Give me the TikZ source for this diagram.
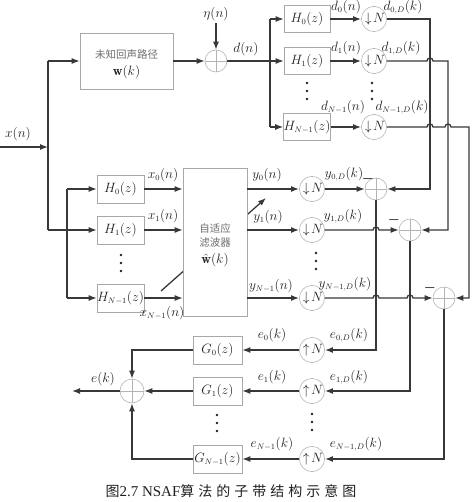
\RequirePackage{fix-cm}
\documentclass[tikz,border=0pt]{standalone}
\usepackage{fontspec}
\newfontfamily\cjk{Noto Sans CJK SC}
\newfontfamily\capserif{Liberation Serif}
\usetikzlibrary{arrows.meta,calc}
\definecolor{lncol}{HTML}{383838}
\definecolor{boxcol}{HTML}{A8A8A8}
\definecolor{circcol}{HTML}{B4B4B4}
\definecolor{txtcol}{HTML}{202020}
\DeclareMathSizes{13.5}{13.5}{8}{6}
\newcommand{\cjkbox}[1]{{\cjk\fontsize{10.5}{12}\selectfont\color[HTML]{707070}#1}}
\begin{document}
\begin{tikzpicture}[x=1pt,y=1pt,
 line/.style={draw=lncol, line width=1.3pt},
 arr/.style={line, -{Latex[length=8pt,width=6pt]}},
 box/.style={draw=boxcol, line width=0.6pt, minimum width=46pt, minimum height=27pt, inner sep=0pt, font=\fontsize{13.5}{15}\selectfont, fill=white, text=txtcol},
 sumc/.style={circle, draw=circcol, line width=0.6pt, minimum size=22pt, inner sep=0pt, fill=white,
   path picture={\draw[circcol, line width=0.5pt] (path picture bounding box.north) -- (path picture bounding box.south) (path picture bounding box.west) -- (path picture bounding box.east);}},
 samp/.style={circle, draw=circcol, line width=0.6pt, minimum size=23pt, inner sep=0pt, font=\fontsize{13.5}{15}\selectfont, text=txtcol},
 lab/.style={font=\fontsize{13.5}{15}\selectfont, inner sep=0pt, text=txtcol},
 minus/.style={font=\fontsize{13.5}{13.5}\selectfont\boldmath, inner sep=0pt, text=txtcol},
 dot/.style={fill=txtcol},
]
\useasboundingbox (0,0) rectangle (474,-502);

% ---------- top part ----------
\coordinate (xin) at (0,-147);
\coordinate (j1) at (48,-147);
\coordinate (jt) at (48,-61);
\coordinate (jb) at (48,-230);
\node[lab] (xlab) at (18,-134) {$x(n)$};
\draw[arr] (xin) -- (j1);
\draw[line] (jt) -- (jb);

\node[box, minimum width=93pt, minimum height=56pt] (wbox) at (126.5,-61) {};
\node[inner sep=0pt] (wtxt1) at (126.5,-55) {\cjkbox{未知回声路径}};
\node[lab] (wtxt2) at (126.5,-72) {$\mathbf{w}(k)$};
\draw[arr] (jt) -- (wbox.west);

\node[sumc] (st) at (216,-61) {};
\node[lab] (eta) at (216,-14) {$\eta(n)$};
\draw[arr, shorten <=2pt] (eta.south) -- (st.north);
\draw[arr] (wbox.east) -- (st.west);

\coordinate (dsplit) at (270,-61);
\coordinate (tv0) at (270,-19);
\coordinate (tvn) at (270,-127);
\draw[line] (st.east) -- (dsplit);
\node[lab] at (246,-49) {$d(n)$};
\draw[line] (tv0) -- (tvn);

\node[box] (th0) at (307,-19) {$H_0(z)$};
\node[box] (th1) at (307,-61) {$H_1(z)$};
\node[box] (thn) at (307,-127) {$H_{N-1}(z)$};
\draw[arr] (tv0) -- (th0.west);
\draw[arr] (dsplit) -- (th1.west);
\draw[arr] (tvn) -- (thn.west);
\foreach \yy in {83,91,99} \fill[dot] (307,-\yy) circle (1.3);

\node[samp] (td0) at (374,-19) {\hspace{2pt}$\downarrow\! N$};
\node[samp] (td1) at (374,-61) {\hspace{2pt}$\downarrow\! N$};
\node[samp] (tdn) at (374,-127) {\hspace{2pt}$\downarrow\! N$};
\draw[arr] (th0.east) -- (td0.west);
\draw[arr] (th1.east) -- (td1.west);
\draw[arr] (thn.east) -- (tdn.west);
\foreach \yy in {83,91,99} \fill[dot] (372,-\yy) circle (1.3);

\node[lab] at (346,-7) {$d_0(n)$};
\node[lab] at (346,-48) {$d_1(n)$};
\node[lab] at (343,-107) {$d_{N-1}(n)$};
\node[lab] at (403,-7) {$d_{0,D}(k)$};
\node[lab] at (401,-48) {$d_{1,D}(k)$};
\node[lab] at (402,-107) {$d_{N-1,D}(k)$};

% ---------- middle part ----------
\node[box, minimum width=47pt, minimum height=28pt] (mh0) at (120.5,-189) {$H_0(z)$};
\node[box, minimum width=47pt, minimum height=28pt] (mh1) at (120.5,-230) {$H_1(z)$};
\node[box, minimum width=47pt, minimum height=28pt] (mhn) at (120.5,-298) {$H_{N-1}(z)$};
\coordinate (mv0) at (67,-189);
\coordinate (mvn) at (67,-298);
\draw[line] (mv0) -- (mvn);
\draw[arr] (jb) -- (mh1.west);
\draw[arr] (mv0) -- (mh0.west);
\draw[arr] (mvn) -- (mhn.west);
\foreach \yy in {255,263,271} \fill[dot] (121,-\yy) circle (1.3);

\coordinate (dg1) at (161,-291);
\coordinate (dg2) at (266,-198);
\draw[arr] (dg1) -- (dg2);
\node[box, minimum width=64pt, minimum height=148pt] (af) at (215,-242) {};
\node[inner sep=0pt] (aft1) at (215,-229) {\cjkbox{自适应}};
\node[inner sep=0pt] (aft2) at (215,-243) {\cjkbox{滤波器}};
\node[lab] (aft3) at (215,-260) {$\hat{\mathbf{w}}(k)$};

\draw[arr] (mh0.east) -- (af.west |- mh0.east);
\draw[arr] (mh1.east) -- (af.west |- mh1.east);
\draw[arr] (mhn.east) -- (af.west |- mhn.east);
\node[lab] at (163,-175) {$x_0(n)$};
\node[lab] at (163,-216) {$x_1(n)$};
\node[lab] at (162,-313) {$x_{N-1}(n)$};

\node[samp, minimum size=24pt] (md0) at (312,-189) {\hspace{2pt}$\downarrow\! N$};
\node[samp, minimum size=24pt] (md1) at (312,-230) {\hspace{2pt}$\downarrow\! N$};
\node[samp, minimum size=24pt] (mdn) at (312,-298) {\hspace{2pt}$\downarrow\! N$};
\draw[arr] (af.east |- md0) -- (md0.west);
\draw[arr] (af.east |- md1) -- (md1.west);
\draw[arr] (af.east |- mdn) -- (mdn.west);
\node[lab] at (267,-175) {$y_0(n)$};
\node[lab] at (268,-217) {$y_1(n)$};
\node[lab] at (271,-286) {$y_{N-1}(n)$};
\foreach \yy in {253,261,269} \fill[dot] (316,-\yy) circle (1.3);

\node[sumc] (s0) at (376,-189) {};
\node[sumc] (s1) at (410,-230) {};
\node[sumc] (s2) at (444,-298) {};
\draw[arr] (md0.east) -- (s0.west);
\draw[arr] (md1.east) -- (373,-230) arc (180:0:3) -- (s1.west);
\draw[arr] (mdn.east) -- (373,-298) arc (180:0:3) -- (407,-298) arc (180:0:3) -- (s2.west);
\node[lab] at (344,-174) {$y_{0,D}(k)$};
\node[lab] at (343,-216) {$y_{1,D}(k)$};
\node[lab] at (345,-284) {$y_{N-1,D}(k)$};
\node[minus] at (368,-179) {$-$};
\node[minus] at (394,-220) {$-$};
\node[minus] at (430,-288) {$-$};

% feedback from top downsamplers
\draw[arr] (td0.east) -- (430,-19) -- (430,-189) -- (s0.east);
\draw[arr] (td1.east) -- (427,-61) arc (180:0:3) -- (448,-61) -- (448,-230) -- (s1.east);
\draw[arr] (tdn.east) -- (427,-127) arc (180:0:3) -- (445,-127) arc (180:0:3) -- (469,-127) -- (469,-298) -- (s2.east);

% ---------- bottom part ----------
\node[samp, minimum size=24pt] (bu0) at (312,-350) {\hspace{2pt}$\uparrow\! N$};
\node[samp, minimum size=24pt] (bu1) at (312,-391) {\hspace{2pt}$\uparrow\! N$};
\node[samp, minimum size=24pt] (bun) at (312,-459) {\hspace{2pt}$\uparrow\! N$};
\draw[arr] (s0.south) -- (376,-350) -- (bu0.east);
\draw[arr] (s1.south) -- (410,-391) -- (bu1.east);
\draw[arr] (s2.south) -- (444,-459) -- (bun.east);
\foreach \yy in {414,422,430} \fill[dot] (312,-\yy) circle (1.3);
\node[lab] at (349,-335) {$e_{0,D}(k)$};
\node[lab] at (349,-377) {$e_{1,D}(k)$};
\node[lab] at (356,-444) {$e_{N-1,D}(k)$};

\node[box, minimum width=49pt, minimum height=28pt] (g0) at (217.5,-350) {$G_0(z)$};
\node[box, minimum width=49pt, minimum height=28pt] (g1) at (217.5,-391) {$G_1(z)$};
\node[box, minimum width=49pt, minimum height=28pt] (gn) at (217.5,-459) {$G_{N-1}(z)$};
\draw[arr] (bu0.west) -- (g0.east);
\draw[arr] (bu1.west) -- (g1.east);
\draw[arr] (bun.west) -- (gn.east);
\foreach \yy in {415,423,431} \fill[dot] (217,-\yy) circle (1.3);
\node[lab] at (272,-335) {$e_0(k)$};
\node[lab] at (272,-377) {$e_1(k)$};
\node[lab] at (272,-444) {$e_{N-1}(k)$};

\node[sumc, minimum size=24pt] (fs) at (132,-391) {};
\draw[arr] (g0.west) -- (132,-350) -- (fs.north);
\draw[arr] (g1.west) -- (fs.east);
\draw[arr] (gn.west) -- (132,-459) -- (fs.south);
\coordinate (eout) at (72,-391);
\draw[arr] (fs.west) -- (eout);
\node[lab] at (103,-379) {$e(k)$};

% caption
\node[inner sep=0pt, text=txtcol] (cap) at (231,-491)
  {{\cjk\fontsize{14}{15}\selectfont 图}{\capserif\fontsize{15}{15}\selectfont 2.7 NSAF}{\cjk\fontsize{14}{15}\selectfont 算\hspace{4pt}法\hspace{4pt}的\hspace{4pt}子\hspace{4pt}带\hspace{4pt}结\hspace{4pt}构\hspace{4pt}示\hspace{4pt}意\hspace{4pt}图}};
\end{tikzpicture}
\end{document}
